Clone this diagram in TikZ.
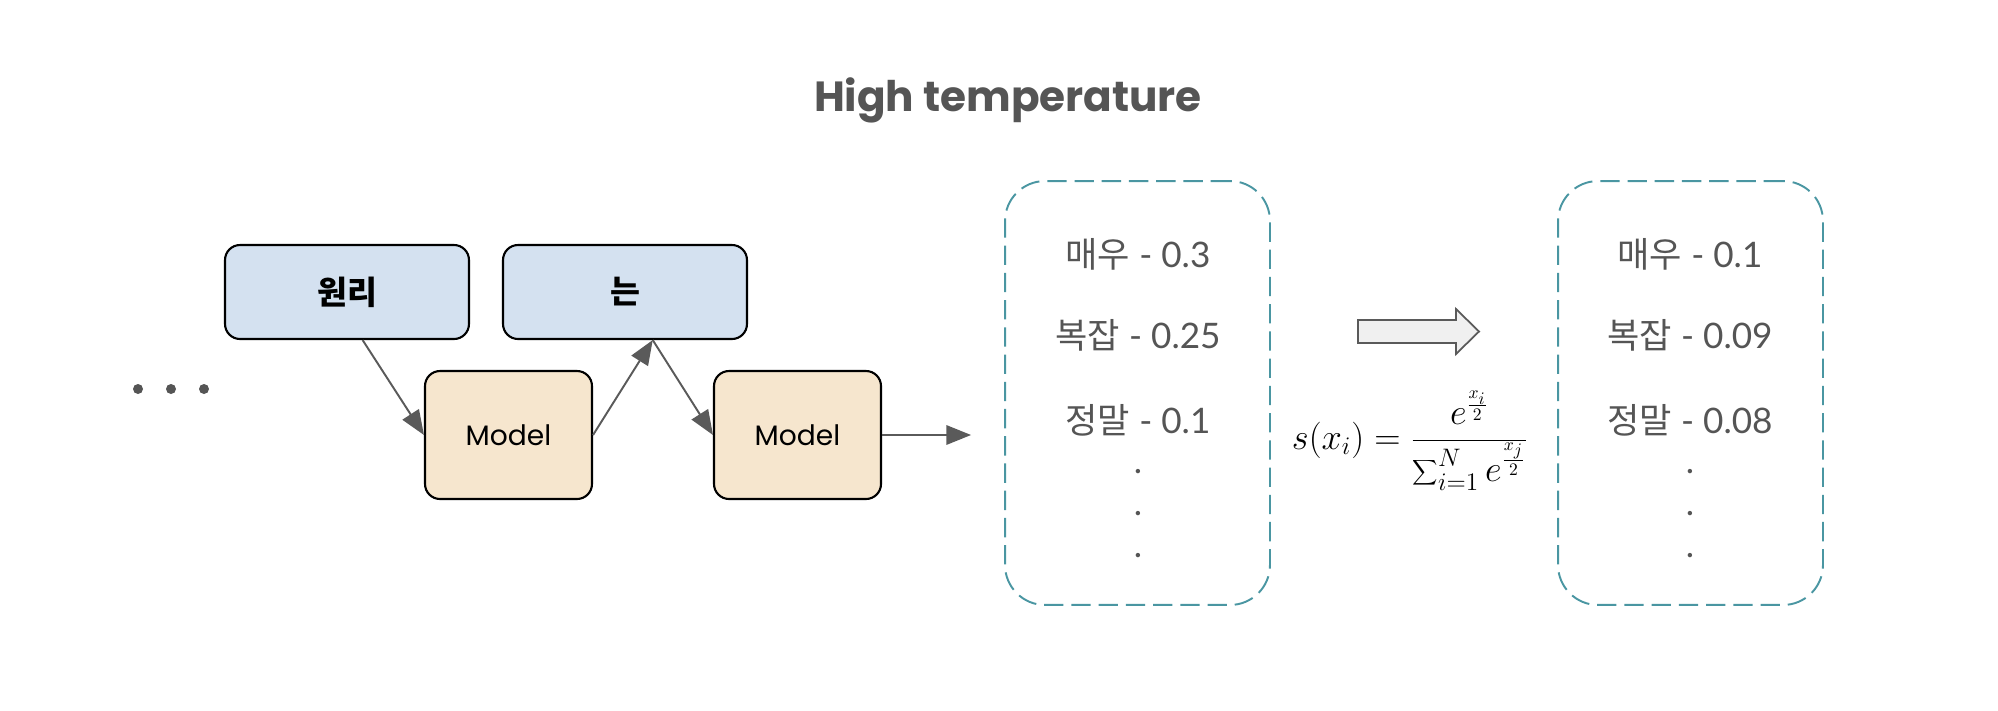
\documentclass[tikz,border=0pt]{standalone}
\usepackage[no-math]{fontspec}
\setmainfont{Lato}
\newfontfamily\krfont{Noto Sans CJK KR}
\newfontfamily\comicfont{Poppins}
\newcommand\kor[1]{{\krfont #1}}
\usetikzlibrary{arrows.meta,positioning}
\definecolor{tokblue}{HTML}{D4E1F0}
\definecolor{modeltan}{HTML}{F6E6CE}
\definecolor{dashteal}{HTML}{4A96A2}
\definecolor{txtgray}{HTML}{555555}
\definecolor{arrgray}{HTML}{5A5A5A}

\begin{document}
\begin{tikzpicture}[
  x=0.02cm, y=-0.02cm,
  tok/.style={rectangle, draw, rounded corners=0.3cm, fill=tokblue,
              line width=1.2pt, minimum width=4.88cm, minimum height=1.88cm,
              font=\krfont\bfseries\fontsize{18.5}{22}\selectfont},
  model/.style={rectangle, draw, rounded corners=0.3cm, fill=modeltan,
                line width=1.2pt, minimum width=3.34cm, minimum height=2.56cm,
                font=\comicfont\fontsize{16}{19}\selectfont},
  probbox/.style={rectangle, draw=dashteal, dash pattern=on 11pt off 4.5pt,
                  rounded corners=0.8cm, line width=1.1pt,
                  minimum width=5.3cm, minimum height=8.48cm},
  prob/.style={anchor=base, text=txtgray, font=\fontsize{20}{24}\selectfont},
  arr/.style={draw=arrgray, line width=1.1pt, -{Triangle[length=14pt,width=11pt]}}
]
\useasboundingbox (0,0) rectangle (1998,710);

\node[font=\comicfont\bfseries\fontsize{24}{28}\selectfont, text=txtgray]
  (title) at (1008,100) {High temperature};

% tokens and model steps
\node[tok]   (wonri)  at (347,292)   {원리};
\node[tok]   (neun)   at (625,292)   {는};
\node[model] (model1) at (508.5,435) {Model};
\node[model] (model2) at (797.5,435) {Model};
\foreach \dx in {138,171,204}
  \fill[txtgray] (\dx,389) circle (0.1cm);

\draw[arr] (wonri.-72)  -- (model1.west);
\draw[arr] (model1.east) -- (neun.-60);
\draw[arr] (neun.-60)   -- (model2.west);

% probabilities before / after
\node[probbox] (probA) at (1137.5,393) {};
\node[probbox] (probB) at (1690.5,393) {};
\draw[arr, shorten >=0.66cm] (model2.east) -- (probA.west |- model2.east);

\node[prob] (a1) at (1138,267) {\kor{매우} - 0.3};
\node[prob] (a2) at (1138,348) {\kor{복잡} - 0.25};
\node[prob] (a3) at (1138,433) {\kor{정말} - 0.1};
\node[prob] (b1) at (1690,267) {\kor{매우} - 0.1};
\node[prob] (b2) at (1690,348) {\kor{복잡} - 0.09};
\node[prob] (b3) at (1690,433) {\kor{정말} - 0.08};
\foreach \dy [count=\i] in {473,515,557} {
  \node[prob, inner sep=0pt] (ad\i) at (1138,\dy) {.};
  \node[prob, inner sep=0pt] (bd\i) at (1690,\dy) {.};
}

\draw[line width=1pt, draw=arrgray, fill=gray!12]
  (1358,320) -- (1456,320) -- (1456,309) -- (1479,331.5)
  -- (1456,354) -- (1456,343) -- (1358,343) -- cycle;

\node[font=\fontsize{20}{24}\selectfont] (softmax) at (1410,441)
  {$\displaystyle s(x_i)=\frac{e^{\frac{x_i}{2}}}{\displaystyle\sum\nolimits_{i=1}^{N} e^{\frac{x_j}{2}}}$};
\end{tikzpicture}
\end{document}
